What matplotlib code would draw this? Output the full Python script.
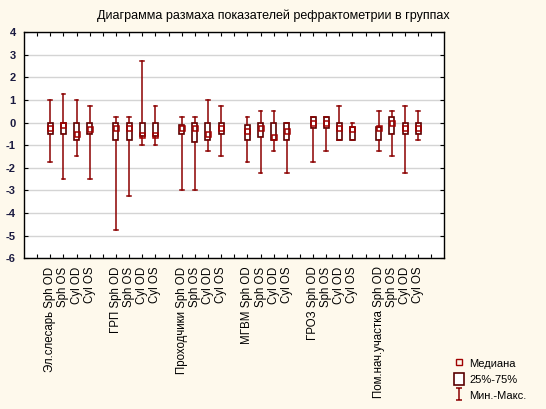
import matplotlib
matplotlib.use("Agg")
import matplotlib.pyplot as plt
from matplotlib.lines import Line2D
from matplotlib.patches import Rectangle
from matplotlib.path import Path

plt.rcParams['font.family'] = ['Liberation Sans', 'DejaVu Sans']

# groups and measures
groups = ['Эл.слесарь', 'ГРП', 'Проходчики', 'МГВМ', 'ГРОЗ', 'Пом.нач.участка']
measures = ['Sph OD', 'Sph OS', 'Cyl OD', 'Cyl OS']

# values (4 per group, same order as measures)
mins = [-1.75, -2.5, -1.5, -2.5,
        -4.75, -3.25, -1.0, -1.0,
        -3.0, -3.0, -1.25, -1.5,
        -1.75, -2.25, -1.25, -2.25,
        -1.75, -1.25, -0.75, -0.75,
        -1.25, -1.5, -2.25, -0.75]
maxs = [1.0, 1.25, 1.0, 0.75,
        0.25, 0.25, 2.75, 0.75,
        0.25, 0.25, 1.0, 0.75,
        0.25, 0.5, 0.5, 0.0,
        0.25, 0.25, 0.75, 0.0,
        0.5, 0.5, 0.75, 0.5]
q25 = [-0.5, -0.5, -0.75, -0.5,
       -0.75, -0.75, -0.6, -0.6,
       -0.5, -0.88, -0.75, -0.5,
       -0.75, -0.62, -0.75, -0.75,
       -0.25, -0.25, -0.75, -0.75,
       -0.75, -0.5, -0.5, -0.5]
q75 = [0.0, 0.0, 0.0, 0.0,
       0.0, 0.0, 0.0, 0.0,
       -0.12, 0.0, 0.0, 0.0,
       -0.12, 0.0, 0.0, 0.0,
       0.25, 0.25, 0.0, -0.18,
       -0.18, 0.25, 0.0, 0.0]
medians = [-0.25, -0.12, -0.5, -0.3,
           -0.25, -0.25, -0.53, -0.53,
           -0.25, -0.25, -0.5, -0.25,
           -0.37, -0.25, -0.62, -0.37,
           0.0, 0.0, -0.25, -0.28,
           -0.25, 0.0, -0.25, -0.25]

title = 'Диаграмма размаха показателей рефрактометрии в группах'
legend_labels = ['Медиана', '25%-75%', 'Мин.-Макс.']

box_edge = '#5a0000'
whisk_col = '#8b0000'
bg = '#fef9ec'

# category slots: one empty slot before each group, one at the end
positions = []
tick_pos = list(range(1, 32))
tick_lab = [''] * len(tick_pos)
for g, grp in enumerate(groups):
    for m, meas in enumerate(measures):
        p = 2 + 5 * g + m
        positions.append(p)
        tick_lab[p - 1] = (grp + ' ' + meas) if m == 0 else meas

fig = plt.figure(figsize=(5.46, 4.09), dpi=100, facecolor=bg)
ax = fig.add_axes([0.044, 0.369, 0.770, 0.552])
ax.set_facecolor('white')

stats = [dict(med=md, q1=a, q3=b, whislo=lo, whishi=hi)
         for md, a, b, lo, hi in zip(medians, q25, q75, mins, maxs)]
ax.bxp(stats, positions=positions, widths=0.38, capwidths=0.28,
       showfliers=False, patch_artist=True,
       boxprops=dict(facecolor='white', edgecolor=box_edge, linewidth=1.2),
       whiskerprops=dict(color=whisk_col, linewidth=1.1),
       capprops=dict(color=whisk_col, linewidth=1.1),
       medianprops=dict(linewidth=0), zorder=3)
ax.plot(positions, medians, 's', ms=3.6, mfc='none', mec='#a00000',
        mew=1.1, zorder=4)

ax.set_xlim(0, 32)
ax.set_ylim(-6, 4)
ax.set_yticks(range(-6, 5))
ax.set_yticklabels([str(v) for v in range(-6, 5)], fontsize=8,
                   fontweight='bold', color='#1a1a40')
ax.set_xticks(tick_pos)
ax.set_xticklabels(tick_lab, rotation=90, fontsize=8.3)
ax.tick_params(direction='in', length=3, width=0.8, top=True, right=True,
               colors='black')
ax.tick_params(axis='y', pad=6, labelcolor='#1a1a40')
ax.tick_params(axis='x', pad=6)
ax.grid(axis='y', color='#d4d4d4', linewidth=1)
ax.set_axisbelow(True)
for s in ax.spines.values():
    s.set_linewidth(1)

fig.text(0.5, 1 - 16 / 409, title, ha='center', va='center', fontsize=9)

# legend
ibeam = Path([(-0.5, -1), (0.5, -1), (0, -1), (0, 1), (-0.5, 1), (0.5, 1)],
             [Path.MOVETO, Path.LINETO, Path.MOVETO, Path.LINETO,
              Path.MOVETO, Path.LINETO])
handles = [
    Line2D([], [], ls='none', marker='s', ms=4, mfc='none', mec='#a00000', mew=1),
    Rectangle((0, 0), 1, 1, facecolor='white', edgecolor=box_edge, lw=1.2),
    Line2D([], [], ls='none', marker=ibeam, ms=8.5, mec=whisk_col, mew=1.1),
]
fig.legend(handles, legend_labels, loc='center left',
           bbox_to_anchor=(0.823, 1 - 379 / 409), frameon=False,
           fontsize=8, handlelength=0.9, handleheight=1.3,
           handletextpad=0.5, labelspacing=0.35, borderaxespad=0)

fig.savefig('out.png', dpi=100, facecolor=bg)
